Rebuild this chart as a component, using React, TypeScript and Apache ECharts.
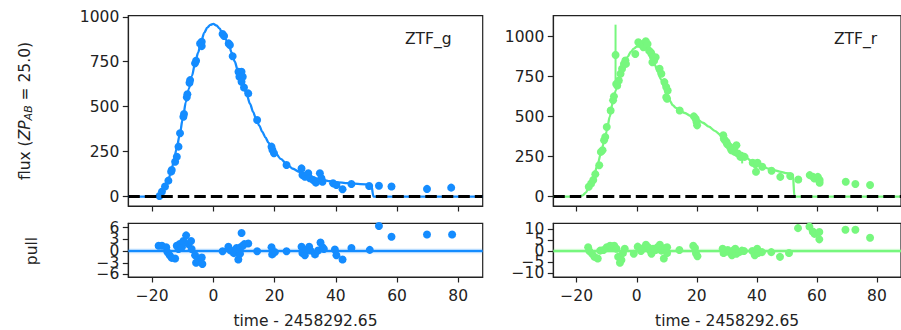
import React, { useEffect, useRef } from 'react';
import * as echarts from 'echarts';

// ---------- tick values ----------
const xTicks = [-20, 0, 20, 40, 60, 80];
const fluxTicks = [0, 250, 500, 750, 1000];
const pullTicksG = [-6, -3, 0, 3, 6];
const pullTicksR = [-10, -5, 0, 5, 10];

// ---------- ZTF_g ----------
const gObs: number[][] = [
  [-17.6, 4], [-16.8, 28], [-15.8, 56], [-14.7, 89], [-13.8, 139], [-13.6, 148], [-12.5, 194],
  [-11.95, 222], [-11.4, 278], [-10.9, 352], [-9.8, 444], [-9.6, 459], [-8.7, 552], [-8.5, 569],
  [-7.8, 633], [-7.6, 648], [-6.0, 741], [-5.65, 756], [-4.35, 852], [-3.8, 861], [-3.8, 837],
  [3.0, 904], [3.5, 893], [5.0, 852], [5.4, 843], [6.3, 781], [8.2, 694], [8.7, 676], [9.2, 694],
  [8.5, 667], [9.6, 667], [9.2, 639], [10.0, 607], [11.4, 574], [14.3, 426], [19.0, 278],
  [19.3, 259], [19.8, 241], [23.9, 176], [28.8, 157], [29.1, 120], [29.9, 111], [31.0, 130],
  [31.5, 102], [32.6, 93], [33.5, 78], [34.8, 130], [35.3, 102], [35.65, 83], [39.1, 74],
  [40.2, 65], [42.2, 41], [45.1, 70], [50.9, 59], [54.1, 61], [58.2, 56], [69.8, 43], [77.7, 50],
];
const gModel: number[][] = [
  [-27.8, 0], [-19.5, 0], [-18, 3], [-17, 18], [-16, 45], [-15, 80], [-14, 125], [-13, 190],
  [-12, 268], [-11, 345], [-10, 434], [-9, 525], [-8, 601], [-7, 671], [-6, 741], [-5, 800],
  [-4, 862], [-3, 910], [-2, 940], [-1, 955], [0, 960], [1, 952], [2, 935], [3, 905], [4, 875],
  [5, 843], [6, 800], [7, 750], [8, 700], [9, 650], [10, 605], [11, 560], [12, 515], [13, 470],
  [14, 430], [15, 395], [16, 360], [17, 330], [18, 300], [19, 273], [20, 250], [22, 210],
  [24, 180], [26, 155], [28, 138], [30, 123], [32, 110], [34, 100], [36, 92], [38, 86],
  [40, 81], [44, 75], [48, 70], [51.6, 66], [52.3, 0], [88, 0],
];
const gPull: number[][] = [
  [-17.9, 1.35], [-16.8, 1.35], [-15.4, 0.94], [-15.0, -0.29], [-14.3, -1.1], [-13.6, -1.76],
  [-12.5, -1.9], [-11.96, 1.35], [-11.4, 0.53], [-11.1, 1.76], [-10.3, 0.94], [-9.8, 2.57],
  [-8.9, 4.0], [-8.2, 1.76], [-7.3, 2.57], [-7.1, 0.53], [-5.98, -1.1], [-5.65, -2.98],
  [-4.9, -2.3], [-3.8, -1.67], [-3.6, -3.3], [3.0, -0.04], [4.9, 1.1], [5.65, 0.12],
  [6.7, -0.53], [7.6, 0.78], [8.15, -2.16], [8.7, -0.7], [8.9, 0.94], [9.2, 4.6], [9.6, 1.35],
  [10.1, 1.76], [11.4, 1.92], [14.3, -0.04], [19.0, 0.94], [19.2, -0.86], [20.1, -0.29],
  [23.9, -0.04], [28.8, 1.1], [29.1, -0.53], [29.9, -1.1], [30.4, 0.29], [31.3, 1.1],
  [31.7, 0.12], [33.2, -0.86], [34.2, 0.12], [35.0, 2.16], [35.65, 0.94], [36.1, 0.53],
  [39.7, 0.37], [40.2, -1.1], [42.2, -2.16], [45.1, 0.78], [51.1, 0.29], [54.1, 6.4],
  [58.2, 3.63], [69.8, 4.2], [78.0, 4.2],
];
const gBand = [-0.8, 0.8];

// ---------- ZTF_r ----------
const rObs: number[][] = [
  [-16.0, 62], [-15.2, 83], [-14.5, 104], [-13.8, 141], [-12.5, 197], [-11.95, 280], [-11.4, 290],
  [-10.9, 353], [-10.5, 373], [-10.0, 436], [-8.7, 539], [-7.9, 602], [-7.6, 627], [-7.07, 886],
  [-6.85, 705], [-6.5, 695], [-5.98, 726], [-5.4, 768], [-4.9, 799], [-4.3, 830], [-3.8, 851],
  [-3.6, 830], [-0.5, 892], [0.5, 965], [1.1, 954], [2.2, 934], [3.0, 971], [3.6, 954],
  [4.1, 913], [4.7, 902], [4.9, 892], [5.4, 871], [5.8, 851], [5.2, 840], [6.3, 871],
  [7.6, 799], [8.2, 768], [9.2, 716], [9.8, 685], [10.3, 664], [9.8, 622], [10.1, 612],
  [14.3, 539], [19.0, 502], [19.6, 488], [19.9, 467], [20.1, 446], [28.8, 384], [29.0, 363],
  [29.3, 353], [29.9, 342], [30.1, 328], [31.0, 311], [31.5, 290], [32.1, 301], [32.6, 280],
  [33.2, 322], [33.7, 270], [34.5, 249], [35.1, 253], [35.9, 249], [38.6, 212], [39.5, 203],
  [40.2, 212], [39.7, 156], [41.8, 187], [44.9, 162], [47.8, 124], [51.1, 129], [53.8, 108],
  [57.6, 135], [58.7, 124], [59.2, 114], [60.3, 124], [60.9, 104], [60.9, 87], [69.6, 93],
  [72.8, 79], [77.7, 73],
];
const rErr: number[][] = [
  [-7.07, 697, 1075], [35.1, 208, 280], [39.7, 135, 176], [51.3, 104, 145],
];
const rModel: number[][] = [
  [-27.8, 0], [-19.6, 0], [-18, 8], [-17, 25], [-16, 55], [-15, 100], [-14, 150], [-13, 205],
  [-12, 268], [-11, 335], [-10, 410], [-9, 500], [-8, 590], [-7, 665], [-6, 735], [-5, 795],
  [-4, 840], [-3, 875], [-2, 905], [-1, 925], [0, 938], [1, 944], [2, 942], [3, 930], [4, 905],
  [5, 870], [6, 825], [7, 780], [8, 735], [9, 690], [10, 640], [11, 600], [12, 572], [13, 555],
  [14, 543], [16, 523], [18, 505], [20, 485], [22, 462], [24, 438], [26, 412], [28, 385],
  [30, 352], [32, 316], [34, 282], [36, 252], [38, 225], [40, 204], [42, 188], [44, 175],
  [46, 164], [48, 155], [50, 147], [52, 140], [52.5, 0], [88, 0],
];
const rPull: number[][] = [
  [-16.2, 1.6], [-15.8, -0.1], [-14.9, -1.3], [-14.1, -2.75], [-13.0, -3.5], [-12.2, 0.1],
  [-11.1, 0.4], [-10.0, 1.6], [-8.9, 2.3], [-8.2, 1.9], [-7.5, 2.3], [-6.75, 0.9], [-6.2, -2.75],
  [-5.6, -5.4], [-5.1, -4.2], [-4.6, -1.0], [-4.0, 0.9], [-1.0, -1.3], [0.3, 1.9], [1.4, -0.1],
  [2.3, 1.3], [3.05, 2.75], [3.8, 1.6], [4.5, 0.1], [4.9, -1.3], [5.4, 0.9], [6.3, 0.4],
  [6.9, 1.6], [7.7, 2.75], [8.2, 0.1], [9.0, -3.5], [9.6, 1.3], [10.1, -1.0], [10.1, 1.6],
  [14.2, 0.4], [18.8, 2.3], [19.4, 1.3], [19.7, -1.0], [20.2, -2.5], [28.6, 0.9], [28.9, -1.0],
  [29.5, -0.1], [30.3, 0.4], [30.8, -0.6], [31.7, -2.0], [32.1, 0.1], [32.8, 0.9], [33.2, -1.3],
  [34.1, -0.6], [35.0, 0.1], [35.7, -0.1], [38.5, -0.1], [39.3, -2.0], [40.1, 0.9], [40.4, -1.0],
  [41.7, -0.6], [44.8, -0.6], [47.7, -2.75], [50.7, -1.0], [53.7, 10.3], [57.5, 11.0],
  [58.6, 8.8], [59.2, 7.7], [60.8, 8.55], [60.8, 5.2], [69.5, 9.6], [72.8, 9.6], [77.7, 5.9],
];
const rBand = [-1, 1];

const bandNames = ['ZTF_g', 'ZTF_r'];
const xName = 'time - 2458292.65';

// ---------- styling ----------
const BLUE = '#148cff';
const GREEN = '#77f77e';
const FONT = 'DejaVu Sans';
const FS = 15.5;
const AX = '#222';

const L1 = 128.3, L2 = 553.3, W = 354.4;
const T1 = 15.7, H1 = 190.3, T2 = 223.3, H2 = 56;
const XMIN = -27.8, XMAX = 88;

const fmt = (v: number) => String(v).replace('-', '\u2212');
const evenIdx = (a: number[]) => a.filter((_, i) => i % 2 === 0);
const oddIdx = (a: number[]) => a.filter((_, i) => i % 2 === 1);

function xAxis(gi: number, labels: boolean) {
  return {
    type: 'value', gridIndex: gi, min: XMIN, max: XMAX,
    name: labels ? xName : '', nameLocation: 'middle', nameGap: 36,
    nameTextStyle: { fontFamily: FONT, fontSize: FS, color: AX },
    axisLine: { show: true, onZero: false, lineStyle: { color: AX, width: 1.2 } },
    axisTick: { show: true, length: 5.5, customValues: xTicks, lineStyle: { color: AX, width: 1.2 } },
    axisLabel: {
      show: labels, customValues: xTicks, formatter: fmt, fontFamily: FONT, fontSize: FS, color: AX, margin: 11,
      showMinLabel: true, showMaxLabel: true, hideOverlap: false,
    },
    splitLine: { show: false },
  };
}
function yAxis(gi: number, min: number, max: number, ticks: number[], labelVals: number[], main: boolean) {
  return {
    type: 'value', gridIndex: gi, min, max, position: 'left',
    axisLine: { show: main, onZero: false, lineStyle: { color: AX, width: 1.2 } },
    axisTick: { show: main, length: 5.5, customValues: ticks, lineStyle: { color: AX, width: 1.2 } },
    axisLabel: {
      customValues: labelVals, formatter: fmt, fontFamily: FONT, fontSize: FS, color: AX, margin: 9,
      showMinLabel: true, showMaxLabel: true, hideOverlap: false, interval: 0,
    },
    splitLine: { show: false },
  };
}

const zeroDash = {
  silent: true, symbol: 'none', label: { show: false },
  lineStyle: { color: '#000', type: [11.5, 5], width: 3 },
  data: [{ yAxis: 0 }],
};
function pullLine(color: string) {
  return { silent: true, symbol: 'none', label: { show: false }, lineStyle: { color, type: 'solid', width: 2.3 }, data: [{ yAxis: 0 }] };
}
function pullArea(band: number[], rgba: string) {
  return { silent: true, itemStyle: { color: rgba }, data: [[{ yAxis: band[0] }, { yAxis: band[1] }]] };
}

export default function App() {
  const ref = useRef<HTMLDivElement>(null);
  useEffect(() => {
    if (!ref.current) return;
    const chart = echarts.init(ref.current, null, { renderer: 'svg' });
    chart.setOption({
      animation: false,
      backgroundColor: '#fff',
      grid: [
        { left: L1, top: T1, width: W, height: H1, show: true, borderColor: AX, borderWidth: 1.2, backgroundColor: 'transparent' },
        { left: L1, top: T2, width: W, height: H2, show: true, borderColor: AX, borderWidth: 1.2, backgroundColor: 'transparent' },
        { left: L2, top: T1, width: W, height: H1, show: true, borderColor: AX, borderWidth: 1.2, backgroundColor: 'transparent' },
        { left: L2, top: T2, width: W, height: H2, show: true, borderColor: AX, borderWidth: 1.2, backgroundColor: 'transparent' },
      ],
      xAxis: [xAxis(0, false), xAxis(1, true), xAxis(2, false), xAxis(3, true)],
      yAxis: [
        yAxis(0, -52, 1006, fluxTicks, fluxTicks, true),
        yAxis(1, -6.64, 7.08, pullTicksG, evenIdx(pullTicksG), true),
        yAxis(2, -58, 1131, fluxTicks, fluxTicks, true),
        yAxis(3, -11.9, 12.5, pullTicksR, evenIdx(pullTicksR), true),
        yAxis(1, -6.64, 7.08, pullTicksG, oddIdx(pullTicksG), false),
        yAxis(3, -11.9, 12.5, pullTicksR, oddIdx(pullTicksR), false),
      ],
      series: [
        {
          type: 'line', xAxisIndex: 0, yAxisIndex: 0, data: gModel, showSymbol: false,
          smooth: 0.3, smoothMonotone: 'x',
          lineStyle: { color: BLUE, width: 2.3 }, markLine: zeroDash, z: 2,
        },
        {
          type: 'scatter', xAxisIndex: 0, yAxisIndex: 0, data: gObs, symbolSize: 8,
          itemStyle: { color: BLUE, opacity: 1 }, z: 3,
        },
        {
          type: 'scatter', xAxisIndex: 1, yAxisIndex: 1, data: gPull, symbolSize: 8,
          itemStyle: { color: BLUE, opacity: 1 },
          markLine: pullLine(BLUE), markArea: pullArea(gBand, 'rgba(20,140,255,0.08)'),
        },
        {
          type: 'line', xAxisIndex: 2, yAxisIndex: 2, data: rModel, showSymbol: false,
          smooth: 0.3, smoothMonotone: 'x',
          lineStyle: { color: GREEN, width: 2.3 }, markLine: zeroDash, z: 2,
        },
        {
          type: 'custom', xAxisIndex: 2, yAxisIndex: 2, data: rErr, z: 3,
          encode: { x: 0, y: [1, 2] },
          renderItem: (_p: any, api: any) => {
            const a = api.coord([api.value(0), api.value(1)]);
            const b = api.coord([api.value(0), api.value(2)]);
            return { type: 'line', shape: { x1: a[0], y1: a[1], x2: b[0], y2: b[1] }, style: { stroke: GREEN, lineWidth: 2 } };
          },
        },
        {
          type: 'scatter', xAxisIndex: 2, yAxisIndex: 2, data: rObs, symbolSize: 8,
          itemStyle: { color: GREEN, opacity: 1 }, z: 3,
        },
        {
          type: 'scatter', xAxisIndex: 3, yAxisIndex: 3, data: rPull, symbolSize: 8,
          itemStyle: { color: GREEN, opacity: 1 },
          markLine: pullLine(GREEN), markArea: pullArea(rBand, 'rgba(119,247,126,0.12)'),
        },
      ],
      graphic: [
        { type: 'text', left: 405, top: 31, style: { text: bandNames[0], fontFamily: FONT, fontSize: FS, fill: AX } },
        { type: 'text', left: 834, top: 31, style: { text: bandNames[1], fontFamily: FONT, fontSize: FS, fill: AX } },
        {
          type: 'text', x: 25, y: 111, rotation: Math.PI / 2,
          style: {
            text: '{n|flux (}{i|ZP}{s|AB}{n| = 25.0)}',
            align: 'center', verticalAlign: 'middle',
            rich: {
              n: { fontFamily: FONT, fontSize: FS, fill: AX, lineHeight: 18 },
              i: { fontFamily: FONT, fontSize: FS, fontStyle: 'italic', fill: AX, lineHeight: 18 },
              s: { fontFamily: FONT, fontSize: 11, fontStyle: 'italic', fill: AX, lineHeight: 11, verticalAlign: 'bottom' },
            },
          },
        },
        {
          type: 'text', x: 31.5, y: 251, rotation: Math.PI / 2,
          style: { text: 'pull', align: 'center', verticalAlign: 'middle', fontFamily: FONT, fontSize: FS, fill: AX },
        },
      ],
    });
    return () => chart.dispose();
  }, []);
  return <div ref={ref} style={{ position: 'absolute', left: 0, top: 0, width: 901, height: 330 }} />;
}
